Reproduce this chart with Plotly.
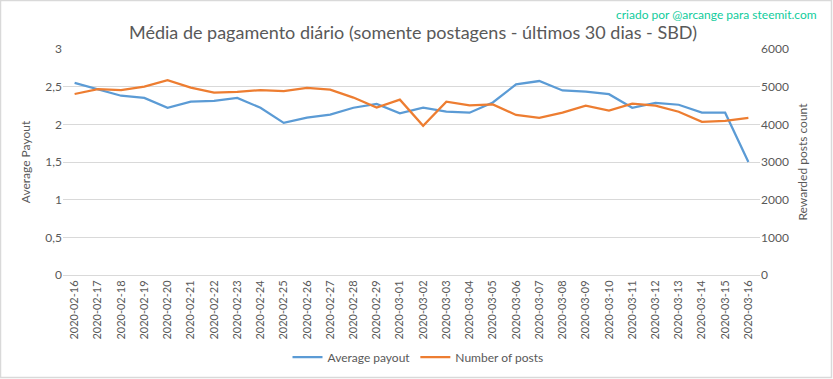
import plotly.graph_objects as go

dates = ["2020-02-16", "2020-02-17", "2020-02-18", "2020-02-19", "2020-02-20",
         "2020-02-21", "2020-02-22", "2020-02-23", "2020-02-24", "2020-02-25",
         "2020-02-26", "2020-02-27", "2020-02-28", "2020-02-29", "2020-03-01",
         "2020-03-02", "2020-03-03", "2020-03-04", "2020-03-05", "2020-03-06",
         "2020-03-07", "2020-03-08", "2020-03-09", "2020-03-10", "2020-03-11",
         "2020-03-12", "2020-03-13", "2020-03-14", "2020-03-15", "2020-03-16"]

average_payout = [2.55, 2.47, 2.38, 2.35, 2.22, 2.30, 2.31, 2.35, 2.22, 2.02,
                  2.09, 2.13, 2.22, 2.27, 2.145, 2.22, 2.17, 2.155, 2.29, 2.53,
                  2.575, 2.45, 2.435, 2.40, 2.22, 2.285, 2.26, 2.155, 2.155, 1.50]

number_of_posts = [4805, 4935, 4910, 5000, 5175, 4975, 4840, 4860, 4910, 4885,
                   4970, 4920, 4710, 4445, 4655, 3960, 4600, 4505, 4530, 4250,
                   4170, 4310, 4495, 4365, 4550, 4495, 4335, 4065, 4095, 4170]

left_ticks = [0, 0.5, 1, 1.5, 2, 2.5, 3]
left_ticktext = ["0", "0,5", "1", "1,5", "2", "2,5", "3"]
right_ticks = [0, 1000, 2000, 3000, 4000, 5000, 6000]

title_text = "Média de pagamento diário (somente postagens - últimos 30 dias - SBD)"
credit_text = "criado por @arcange para steemit.com"

FONT = "Lato, 'Open Sans', sans-serif"
GRAY = "#595959"

fig = go.Figure()
fig.add_trace(go.Scatter(x=dates, y=average_payout, name="Average payout",
                         mode="lines", line=dict(color="#5b9bd5", width=2.25),
                         yaxis="y"))
fig.add_trace(go.Scatter(x=dates, y=number_of_posts, name="Number of posts",
                         mode="lines", line=dict(color="#ed7d31", width=2.25),
                         yaxis="y2"))

W, H = 833, 379
L, R, T, B = 63, 73, 49, 104
pw, ph = W - L - R, H - T - B

fig.update_layout(
    width=W, height=H,
    margin=dict(l=L, r=R, t=T, b=B, autoexpand=False),
    paper_bgcolor="white", plot_bgcolor="white",
    font=dict(family=FONT, color=GRAY, size=12),
    showlegend=True,
    legend=dict(orientation="h", xref="container", yref="container",
                x=418 / W, xanchor="center",
                y=1 - 357 / H, yanchor="middle",
                font=dict(size=12, color=GRAY), itemwidth=30,
                bgcolor="rgba(0,0,0,0)"),
    xaxis=dict(type="category", tickangle=-90, tickfont=dict(size=11, color=GRAY),
               showgrid=False, showline=True, linecolor="#d9d9d9", linewidth=1,
               ticks="", range=[-0.5, len(dates) - 0.5], automargin=False),
    yaxis=dict(range=[0, 3], tickvals=left_ticks, ticktext=left_ticktext,
               showgrid=True, gridcolor="#d9d9d9", gridwidth=1, zeroline=False,
               ticks="", ticklen=0, tickfont=dict(size=12, color=GRAY),
               automargin=False,
               title=dict(text="Average Payout", font=dict(size=12, color=GRAY),
                          standoff=12)),
    yaxis2=dict(range=[0, 6000], tickvals=right_ticks, overlaying="y", side="right",
                showgrid=False, zeroline=False, ticks="", automargin=False,
                tickfont=dict(size=12, color=GRAY),
                title=dict(text="Rewarded posts count", font=dict(size=12, color=GRAY),
                           standoff=10)),
)

fig.add_annotation(text=title_text, xref="paper", yref="paper",
                   x=(413 - L) / pw, y=1 + (T - 32) / ph,
                   showarrow=False, xanchor="center", yanchor="middle",
                   font=dict(family=FONT, size=18, color=GRAY))
fig.add_annotation(text=credit_text, xref="paper", yref="paper",
                   x=(819 - L) / pw, y=1 + (T - 14) / ph,
                   showarrow=False, xanchor="right", yanchor="middle",
                   font=dict(family=FONT, size=12, color="#10cc9c"))

fig.add_shape(type="rect", xref="paper", yref="paper",
              x0=(0.5 - L) / pw, x1=(W - 1.5 - L) / pw,
              y0=-(B - 1.5) / ph, y1=1 + (T - 0.5) / ph,
              line=dict(color="#d9d9d9", width=1.5), fillcolor="rgba(0,0,0,0)",
              layer="below")

fig.write_html("out.html", config={"displayModeBar": False},
               post_script="document.body.style.margin='0';document.body.style.overflow='hidden';")
